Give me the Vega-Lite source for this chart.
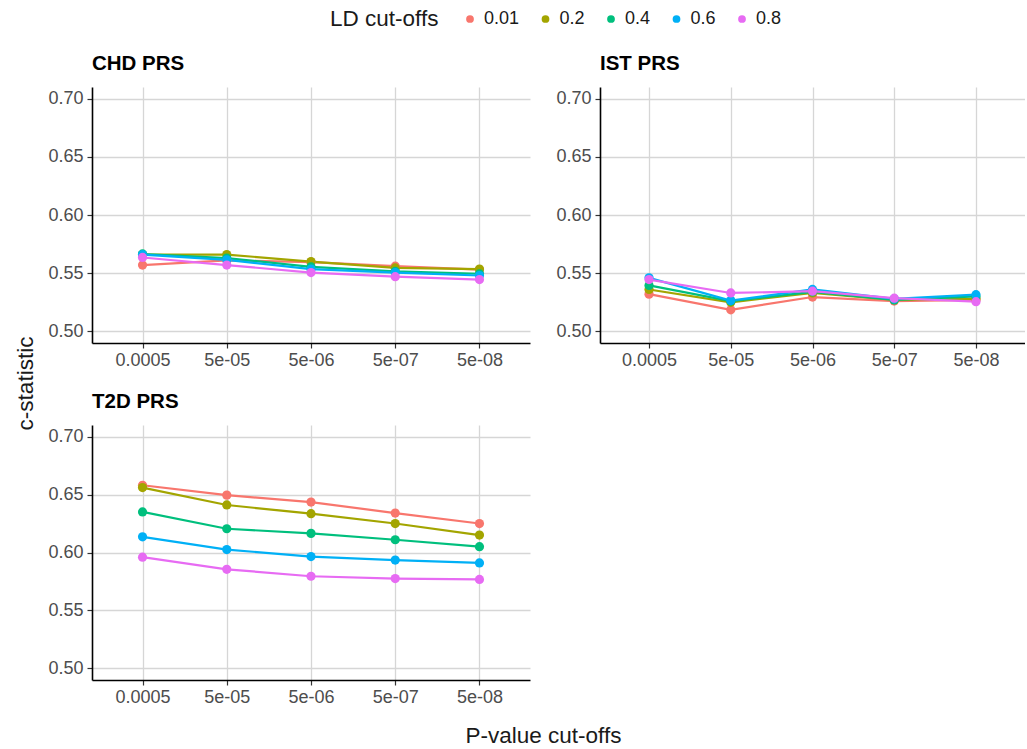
{
  "$schema": "https://vega.github.io/schema/vega-lite/v6.json",
  "background": "white",
  "padding": {"left": 14, "top": 10, "right": 0, "bottom": 0},
  "bounds": "flush",
  "columns": 2,
  "spacing": {"row": 82, "column": 70},
  "data": {
    "values": [
      {"panel": "CHD PRS", "ld": "0.01", "p": "0.0005", "c": 0.557},
      {"panel": "CHD PRS", "ld": "0.01", "p": "5e-05", "c": 0.561},
      {"panel": "CHD PRS", "ld": "0.01", "p": "5e-06", "c": 0.5595},
      {"panel": "CHD PRS", "ld": "0.01", "p": "5e-07", "c": 0.556},
      {"panel": "CHD PRS", "ld": "0.01", "p": "5e-08", "c": 0.553},
      {"panel": "CHD PRS", "ld": "0.2", "p": "0.0005", "c": 0.566},
      {"panel": "CHD PRS", "ld": "0.2", "p": "5e-05", "c": 0.566},
      {"panel": "CHD PRS", "ld": "0.2", "p": "5e-06", "c": 0.560},
      {"panel": "CHD PRS", "ld": "0.2", "p": "5e-07", "c": 0.5545},
      {"panel": "CHD PRS", "ld": "0.2", "p": "5e-08", "c": 0.5535},
      {"panel": "CHD PRS", "ld": "0.4", "p": "0.0005", "c": 0.5665},
      {"panel": "CHD PRS", "ld": "0.4", "p": "5e-05", "c": 0.563},
      {"panel": "CHD PRS", "ld": "0.4", "p": "5e-06", "c": 0.5555},
      {"panel": "CHD PRS", "ld": "0.4", "p": "5e-07", "c": 0.5515},
      {"panel": "CHD PRS", "ld": "0.4", "p": "5e-08", "c": 0.5495},
      {"panel": "CHD PRS", "ld": "0.6", "p": "0.0005", "c": 0.566},
      {"panel": "CHD PRS", "ld": "0.6", "p": "5e-05", "c": 0.5615},
      {"panel": "CHD PRS", "ld": "0.6", "p": "5e-06", "c": 0.5535},
      {"panel": "CHD PRS", "ld": "0.6", "p": "5e-07", "c": 0.5505},
      {"panel": "CHD PRS", "ld": "0.6", "p": "5e-08", "c": 0.548},
      {"panel": "CHD PRS", "ld": "0.8", "p": "0.0005", "c": 0.5635},
      {"panel": "CHD PRS", "ld": "0.8", "p": "5e-05", "c": 0.557},
      {"panel": "CHD PRS", "ld": "0.8", "p": "5e-06", "c": 0.5505},
      {"panel": "CHD PRS", "ld": "0.8", "p": "5e-07", "c": 0.547},
      {"panel": "CHD PRS", "ld": "0.8", "p": "5e-08", "c": 0.5445},
      {"panel": "IST PRS", "ld": "0.01", "p": "0.0005", "c": 0.532},
      {"panel": "IST PRS", "ld": "0.01", "p": "5e-05", "c": 0.5185},
      {"panel": "IST PRS", "ld": "0.01", "p": "5e-06", "c": 0.5295},
      {"panel": "IST PRS", "ld": "0.01", "p": "5e-07", "c": 0.526},
      {"panel": "IST PRS", "ld": "0.01", "p": "5e-08", "c": 0.527},
      {"panel": "IST PRS", "ld": "0.2", "p": "0.0005", "c": 0.536},
      {"panel": "IST PRS", "ld": "0.2", "p": "5e-05", "c": 0.525},
      {"panel": "IST PRS", "ld": "0.2", "p": "5e-06", "c": 0.533},
      {"panel": "IST PRS", "ld": "0.2", "p": "5e-07", "c": 0.527},
      {"panel": "IST PRS", "ld": "0.2", "p": "5e-08", "c": 0.528},
      {"panel": "IST PRS", "ld": "0.4", "p": "0.0005", "c": 0.5395},
      {"panel": "IST PRS", "ld": "0.4", "p": "5e-05", "c": 0.526},
      {"panel": "IST PRS", "ld": "0.4", "p": "5e-06", "c": 0.534},
      {"panel": "IST PRS", "ld": "0.4", "p": "5e-07", "c": 0.527},
      {"panel": "IST PRS", "ld": "0.4", "p": "5e-08", "c": 0.530},
      {"panel": "IST PRS", "ld": "0.6", "p": "0.0005", "c": 0.546},
      {"panel": "IST PRS", "ld": "0.6", "p": "5e-05", "c": 0.5265},
      {"panel": "IST PRS", "ld": "0.6", "p": "5e-06", "c": 0.536},
      {"panel": "IST PRS", "ld": "0.6", "p": "5e-07", "c": 0.528},
      {"panel": "IST PRS", "ld": "0.6", "p": "5e-08", "c": 0.5315},
      {"panel": "IST PRS", "ld": "0.8", "p": "0.0005", "c": 0.5445},
      {"panel": "IST PRS", "ld": "0.8", "p": "5e-05", "c": 0.533},
      {"panel": "IST PRS", "ld": "0.8", "p": "5e-06", "c": 0.5345},
      {"panel": "IST PRS", "ld": "0.8", "p": "5e-07", "c": 0.5285},
      {"panel": "IST PRS", "ld": "0.8", "p": "5e-08", "c": 0.5255},
      {"panel": "T2D PRS", "ld": "0.01", "p": "0.0005", "c": 0.658},
      {"panel": "T2D PRS", "ld": "0.01", "p": "5e-05", "c": 0.6495},
      {"panel": "T2D PRS", "ld": "0.01", "p": "5e-06", "c": 0.6435},
      {"panel": "T2D PRS", "ld": "0.01", "p": "5e-07", "c": 0.634},
      {"panel": "T2D PRS", "ld": "0.01", "p": "5e-08", "c": 0.625},
      {"panel": "T2D PRS", "ld": "0.2", "p": "0.0005", "c": 0.656},
      {"panel": "T2D PRS", "ld": "0.2", "p": "5e-05", "c": 0.641},
      {"panel": "T2D PRS", "ld": "0.2", "p": "5e-06", "c": 0.6335},
      {"panel": "T2D PRS", "ld": "0.2", "p": "5e-07", "c": 0.625},
      {"panel": "T2D PRS", "ld": "0.2", "p": "5e-08", "c": 0.615},
      {"panel": "T2D PRS", "ld": "0.4", "p": "0.0005", "c": 0.635},
      {"panel": "T2D PRS", "ld": "0.4", "p": "5e-05", "c": 0.6205},
      {"panel": "T2D PRS", "ld": "0.4", "p": "5e-06", "c": 0.6165},
      {"panel": "T2D PRS", "ld": "0.4", "p": "5e-07", "c": 0.611},
      {"panel": "T2D PRS", "ld": "0.4", "p": "5e-08", "c": 0.605},
      {"panel": "T2D PRS", "ld": "0.6", "p": "0.0005", "c": 0.6135},
      {"panel": "T2D PRS", "ld": "0.6", "p": "5e-05", "c": 0.6025},
      {"panel": "T2D PRS", "ld": "0.6", "p": "5e-06", "c": 0.5965},
      {"panel": "T2D PRS", "ld": "0.6", "p": "5e-07", "c": 0.5935},
      {"panel": "T2D PRS", "ld": "0.6", "p": "5e-08", "c": 0.591},
      {"panel": "T2D PRS", "ld": "0.8", "p": "0.0005", "c": 0.596},
      {"panel": "T2D PRS", "ld": "0.8", "p": "5e-05", "c": 0.5855},
      {"panel": "T2D PRS", "ld": "0.8", "p": "5e-06", "c": 0.5795},
      {"panel": "T2D PRS", "ld": "0.8", "p": "5e-07", "c": 0.5775},
      {"panel": "T2D PRS", "ld": "0.8", "p": "5e-08", "c": 0.5768}
    ]
  },
  "concat": [
    {
      "title": {"text": "CHD PRS"},
      "width": 438,
      "height": 256,
      "transform": [{"filter": "datum.panel === 'CHD PRS'"}],
      "mark": {"type": "line", "strokeWidth": 2.2, "point": {"filled": true, "size": 85, "opacity": 1}},
      "encoding": {
        "x": {"field": "p", "type": "nominal", "sort": ["0.0005", "5e-05", "5e-06", "5e-07", "5e-08"], "scale": {"type": "point", "padding": 0.6}, "axis": {"title": null, "grid": true}},
        "y": {"field": "c", "type": "quantitative", "scale": {"domain": [0.49, 0.71], "nice": false, "zero": false}, "axis": {"values": [0.5, 0.55, 0.6, 0.65, 0.7], "format": ".2f", "title": "c-statistic", "titleAngle": 270, "titleX": -60, "titleY": 296, "titleAlign": "center", "titleBaseline": "alphabetic"}},
        "color": {"field": "ld", "type": "nominal", "title": "LD cut-offs", "scale": {"domain": ["0.01", "0.2", "0.4", "0.6", "0.8"], "range": ["#F8766D", "#A3A500", "#00BF7D", "#00B0F6", "#E76BF3"]}, "legend": {"orient": "none", "direction": "horizontal", "legendX": 238, "legendY": -77, "titleOrient": "left"}}
      }
    },
    {
      "title": {"text": "IST PRS"},
      "width": 425,
      "height": 256,
      "transform": [{"filter": "datum.panel === 'IST PRS'"}],
      "mark": {"type": "line", "strokeWidth": 2.2, "point": {"filled": true, "size": 85, "opacity": 1}},
      "encoding": {
        "x": {"field": "p", "type": "nominal", "sort": ["0.0005", "5e-05", "5e-06", "5e-07", "5e-08"], "scale": {"type": "point", "padding": 0.6}, "axis": {"title": null, "grid": true}},
        "y": {"field": "c", "type": "quantitative", "scale": {"domain": [0.49, 0.71], "nice": false, "zero": false}, "axis": {"values": [0.5, 0.55, 0.6, 0.65, 0.7], "format": ".2f", "title": null}},
        "color": {"field": "ld", "type": "nominal", "title": "LD cut-offs", "scale": {"domain": ["0.01", "0.2", "0.4", "0.6", "0.8"], "range": ["#F8766D", "#A3A500", "#00BF7D", "#00B0F6", "#E76BF3"]}, "legend": {"orient": "none", "direction": "horizontal", "legendX": 238, "legendY": -77, "titleOrient": "left"}}
      }
    },
    {
      "title": {"text": "T2D PRS"},
      "width": 438,
      "height": 255,
      "transform": [{"filter": "datum.panel === 'T2D PRS'"}],
      "mark": {"type": "line", "strokeWidth": 2.2, "point": {"filled": true, "size": 85, "opacity": 1}},
      "encoding": {
        "x": {"field": "p", "type": "nominal", "sort": ["0.0005", "5e-05", "5e-06", "5e-07", "5e-08"], "scale": {"type": "point", "padding": 0.6}, "axis": {"grid": true, "title": "P-value cut-offs", "titleX": 451, "titleY": 62, "titleAlign": "center", "titleBaseline": "alphabetic"}},
        "y": {"field": "c", "type": "quantitative", "scale": {"domain": [0.49, 0.71], "nice": false, "zero": false}, "axis": {"values": [0.5, 0.55, 0.6, 0.65, 0.7], "format": ".2f", "title": null}},
        "color": {"field": "ld", "type": "nominal", "title": "LD cut-offs", "scale": {"domain": ["0.01", "0.2", "0.4", "0.6", "0.8"], "range": ["#F8766D", "#A3A500", "#00BF7D", "#00B0F6", "#E76BF3"]}, "legend": {"orient": "none", "direction": "horizontal", "legendX": 238, "legendY": -77, "titleOrient": "left"}}
      }
    }
  ],
  "config": {
    "view": {"stroke": null},
    "font": "Liberation Sans",
    "title": {"anchor": "start", "frame": "group", "fontSize": 20.5, "fontWeight": "bold", "color": "#000000", "font": "Liberation Sans", "offset": 13, "baseline": "alphabetic"},
    "axis": {
      "labelFont": "Liberation Sans", "labelFontSize": 18, "labelColor": "#4d4d4d", "labelAngle": 0, "labelPadding": 3,
      "titleFont": "Liberation Sans", "titleFontSize": 22.5, "titleFontWeight": "normal", "titleColor": "#1a1a1a",
      "domainColor": "#000000", "domainWidth": 1.6,
      "tickColor": "#333333", "tickSize": 5, "tickWidth": 1.2,
      "gridColor": "#d6d6d6", "gridWidth": 1.3
    },
    "axisY": {"labelPadding": 4},
    "legend": {
      "labelFont": "Liberation Sans", "labelFontSize": 18, "labelColor": "#1a1a1a",
      "titleFont": "Liberation Sans", "titleFontSize": 22.5, "titleFontWeight": "normal", "titleColor": "#1a1a1a",
      "symbolType": "circle", "symbolSize": 60, "symbolStrokeWidth": 0, "columnPadding": 16.5, "labelOffset": 5, "titlePadding": 22
    }
  }
}
